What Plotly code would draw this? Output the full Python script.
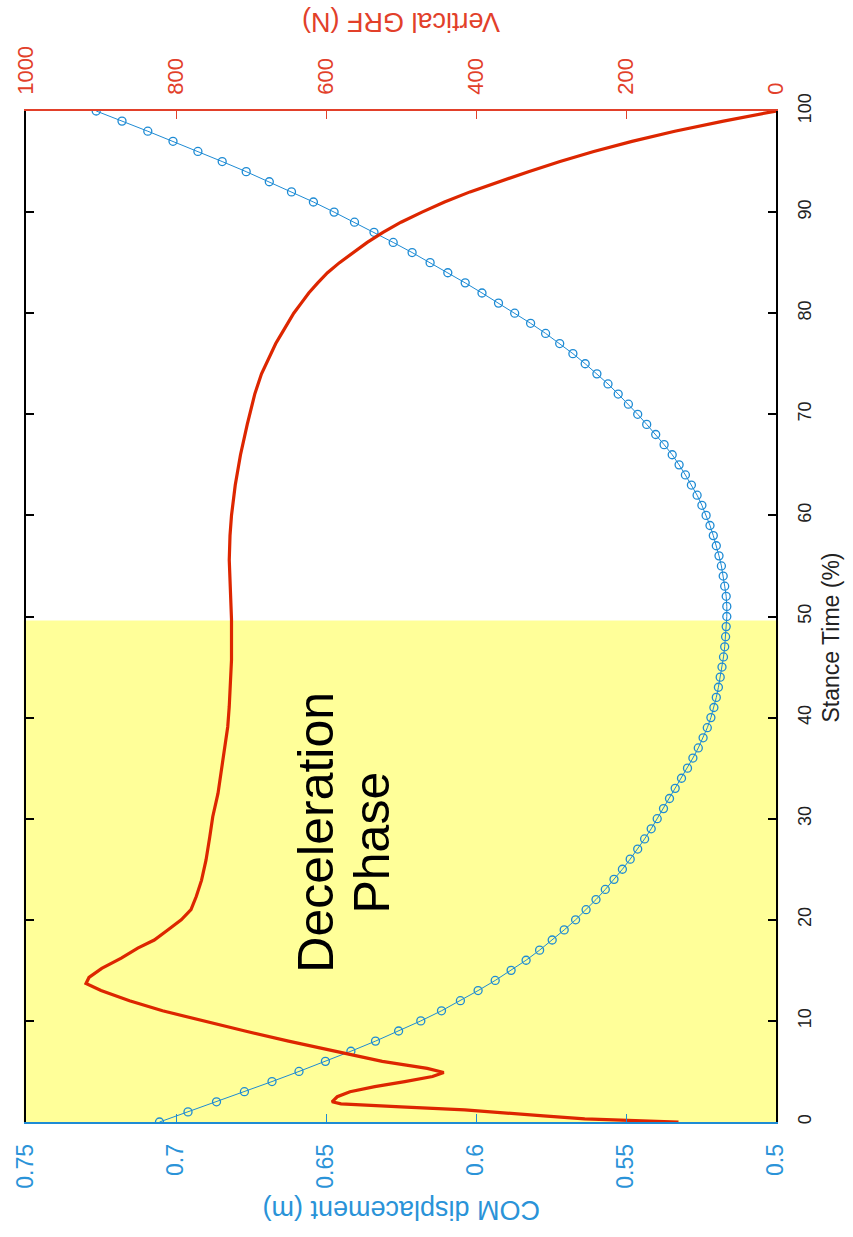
import plotly.graph_objects as go

# Stance time (% of stance) at which COM displacement is sampled
stance_pct = list(range(101))

# Centre-of-mass vertical displacement (m), one sample per 1 % of stance
com_disp = [
    0.7055, 0.6960, 0.6865, 0.6772, 0.6680, 0.6590, 0.6502, 0.6417, 0.6335, 0.6258,
    0.6184, 0.6115, 0.6052, 0.5993, 0.5936, 0.5883, 0.5833, 0.5788, 0.5746, 0.5706,
    0.5668, 0.5633, 0.5600, 0.5569, 0.5540, 0.5512, 0.5486, 0.5461, 0.5438, 0.5416,
    0.5396, 0.5375, 0.5355, 0.5336, 0.5315, 0.5295, 0.5277, 0.5259, 0.5243, 0.5229,
    0.5217, 0.5207, 0.5199, 0.5192, 0.5186, 0.5180, 0.5175, 0.5171, 0.5168, 0.5166,
    0.5164, 0.5164, 0.5166, 0.5171, 0.5176, 0.5182, 0.5190, 0.5199, 0.5209, 0.5220,
    0.5233, 0.5247, 0.5263, 0.5282, 0.5302, 0.5323, 0.5346, 0.5373, 0.5401, 0.5431,
    0.5461, 0.5492, 0.5526, 0.5560, 0.5597, 0.5636, 0.5677, 0.5721, 0.5768, 0.5818,
    0.5871, 0.5925, 0.5980, 0.6036, 0.6094, 0.6153, 0.6213, 0.6276, 0.6340, 0.6405,
    0.6473, 0.6542, 0.6615, 0.6689, 0.6766, 0.6846, 0.6927, 0.7010, 0.7094, 0.7180,
    0.7266,
]

# Vertical ground reaction force (N) against stance time (%)
grf_time = [
    0.0, 0.3, 0.6, 0.9, 1.2, 1.5, 1.8, 2.0, 2.5, 3.0, 3.5, 4.0, 4.5, 4.9, 5.3,
    6.0, 7.0, 8.0, 9.0, 10.0, 11.0, 12.0, 13.0, 13.7, 14.3, 15.2, 16.2, 17.2,
    18.0, 19.0, 20.0, 21.0, 22.3, 23.9, 25.9, 28.2, 30.2, 32.5, 34.5, 36.5,
    39.1, 41.1, 43.4, 45.7, 49.7, 52.3, 55.6, 58.0, 60.0, 63.0, 66.0, 69.0,
    72.0, 74.0, 75.0, 76.0, 77.0, 78.0, 79.0, 80.0, 81.0, 82.0, 83.0, 84.0,
    85.0, 86.0, 87.0, 88.0, 89.0, 90.0, 91.0, 92.0, 93.0, 94.0, 95.0, 96.0,
    97.0, 98.0, 99.0, 100.0,
]
grf_force = [
    130, 255, 310, 360, 415, 500, 580, 592, 585, 568, 535, 495, 458, 443, 465,
    525, 590, 650, 708, 764, 818, 862, 900, 920, 916, 899, 873, 851,
    829, 811, 793, 780, 773, 766, 760, 755, 751, 744, 740, 736,
    731, 729, 727, 726, 726, 727, 729, 728, 726, 721, 714, 705,
    695, 686, 680, 674, 667, 659, 651, 643, 633, 623, 611, 598,
    582, 563, 545, 524, 500, 472, 442, 408, 370, 330, 288, 243,
    192, 135, 70, 0,
]

# Axis ticks
time_ticks = [0, 10, 20, 30, 40, 50, 60, 70, 80, 90, 100]
com_ticks = [0.5, 0.55, 0.6, 0.65, 0.7, 0.75]
com_tick_text = ["0.5", "0.55", "0.6", "0.65", "0.7", "0.75"]
grf_ticks = [0, 200, 400, 600, 800, 1000]

# End of the deceleration phase (% stance)
decel_end = 49.6

BLUE = "#1E8BD4"
BLUE_TXT = "#2A93D8"
RED = "#DD2600"
RED_TXT = "#E2402A"
FONT = "Liberation Sans, Arial, sans-serif"

fig = go.Figure()

fig.add_trace(go.Scatter(
    x=com_disp, y=stance_pct, xaxis="x", yaxis="y",
    mode="lines+markers",
    line=dict(color=BLUE, width=1),
    marker=dict(symbol="circle-open", size=8, color=BLUE, line=dict(width=1.3, color=BLUE)),
    showlegend=False,
))

fig.add_trace(go.Scatter(
    x=grf_force, y=grf_time, xaxis="x2", yaxis="y",
    mode="lines",
    line=dict(color=RED, width=3.2),
    showlegend=False,
))

# Shaded deceleration phase
fig.add_shape(
    type="rect", xref="paper", yref="y",
    x0=-0.003, x1=1.003, y0=-0.6, y1=decel_end,
    fillcolor="#FFFF99", line=dict(width=0), layer="below",
)

fig.update_layout(
    width=853, height=1237,
    margin=dict(l=24, r=77, t=111, b=115),
    paper_bgcolor="white", plot_bgcolor="rgba(0,0,0,0)",
    font=dict(family=FONT),
    xaxis=dict(
        range=[0.75, 0.5], side="bottom", anchor="y",
        tickmode="array", tickvals=com_ticks, ticktext=com_tick_text,
        tickangle=-90, ticks="inside", ticklen=8, tickwidth=1.2, tickcolor=BLUE,
        showline=True, linecolor=BLUE, linewidth=1.5,
        showgrid=False, zeroline=False,
        tickfont=dict(family=FONT, size=23, color=BLUE_TXT), ticklabelstandoff=11,
    ),
    xaxis2=dict(
        range=[1000, 0], side="top", overlaying="x", anchor="y",
        tickmode="array", tickvals=grf_ticks,
        tickangle=-90, ticks="inside", ticklen=8, tickwidth=1.2, tickcolor=RED_TXT,
        showline=True, linecolor=RED_TXT, linewidth=1.5,
        showgrid=False, zeroline=False,
        tickfont=dict(family=FONT, size=22, color=RED_TXT), ticklabelstandoff=10,
    ),
    yaxis=dict(
        range=[0, 100], side="right", anchor="x",
        tickmode="array", tickvals=time_ticks,
        tickangle=-90, ticks="inside", ticklen=8, tickwidth=1.5, tickcolor="black",
        showline=True, linecolor="black", linewidth=1.5, mirror="ticks",
        showgrid=False, zeroline=False,
        tickfont=dict(family=FONT, size=18, color="#222222"), ticklabelstandoff=12,
    ),
)

# Axis titles
fig.add_annotation(
    text="Vertical GRF (N)", xref="paper", yref="paper", x=0.5, y=1.088,
    xanchor="center", yanchor="middle",
    showarrow=False, textangle=180, font=dict(family=FONT, size=27, color=RED_TXT),
)
fig.add_annotation(
    text="COM displacement (m)", xref="paper", yref="paper", x=0.5, y=-0.087,
    xanchor="center", yanchor="middle",
    showarrow=False, textangle=180, font=dict(family=FONT, size=27, color=BLUE_TXT),
)
fig.add_annotation(
    text="Stance Time (%)", xref="paper", yref="paper", x=1.073, y=0.479,
    xanchor="center", yanchor="middle",
    showarrow=False, textangle=-90, font=dict(family=FONT, size=23, color="#222222"),
)

# Phase label
fig.add_annotation(
    text="Deceleration", xref="x", yref="y", x=0.6534, y=28.7,
    xanchor="center", yanchor="middle",
    showarrow=False, textangle=-90,
    font=dict(family=FONT, size=50, color="black"),
)
fig.add_annotation(
    text="Phase", xref="x", yref="y", x=0.6348, y=27.6,
    xanchor="center", yanchor="middle",
    showarrow=False, textangle=-90,
    font=dict(family=FONT, size=50, color="black"),
)

fig.write_html("out.html")
